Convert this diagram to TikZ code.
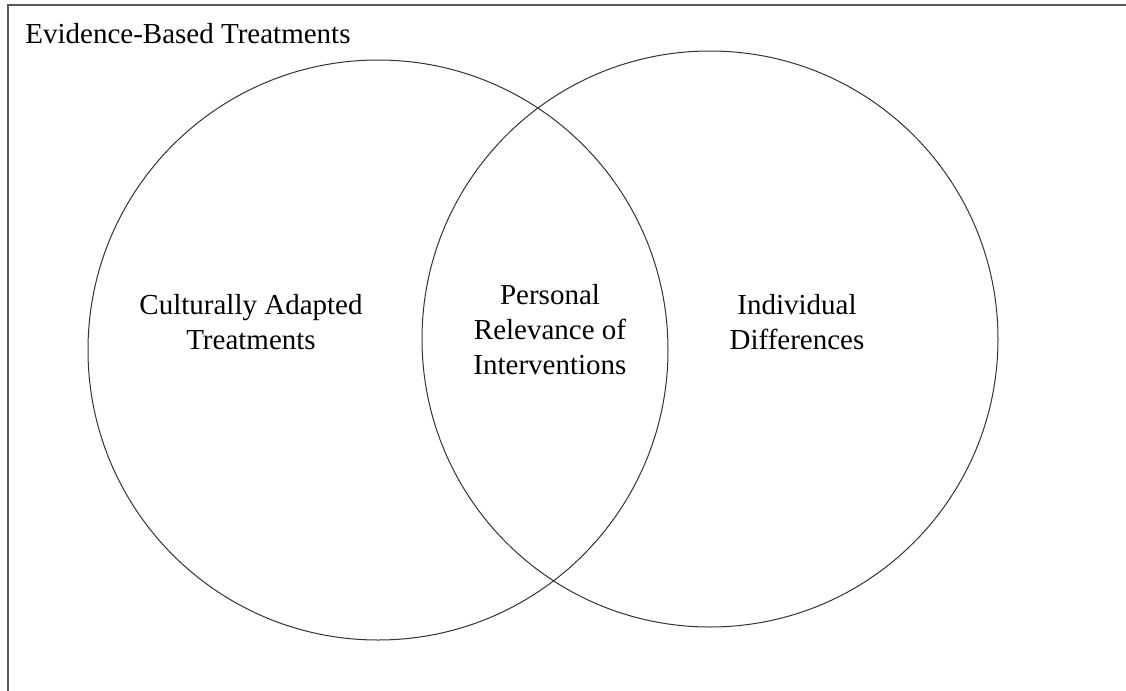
\documentclass[tikz,border=0pt]{standalone}
\usepackage{fontspec}
\setmainfont{Liberation Serif}
\begin{document}
\begin{tikzpicture}[x=0.5pt,y=-0.5pt,
	venn/.style={shape=circle,draw=black!80,line width=0.5pt,inner sep=0pt},
	lbl/.style={align=center,font=\fontsize{14.5}{17.5}\selectfont}]
	\useasboundingbox (0,0) rectangle (1126,691);
	% open frame
	\draw[line width=1pt,draw=black!65] (8,691) -- (8,5) -- (1126,5);
	\node[anchor=base west,inner sep=0pt,font=\fontsize{14.5}{17.5}\selectfont] (ebt) at (25,43) {Evidence-Based Treatments};

	\node[venn,minimum size=290pt] (cat) at (378,350) {};
	\node[venn,minimum size=288pt] (ind) at (710,339) {};

	\node[lbl] (catlbl) at (251,322.5) {Culturally Adapted\\Treatments};
	\node[lbl] (prilbl) at (550,330) {Personal\\Relevance of\\Interventions};
	\node[lbl] (indlbl) at (797,322.5) {Individual\\Differences};
\end{tikzpicture}
\end{document}
